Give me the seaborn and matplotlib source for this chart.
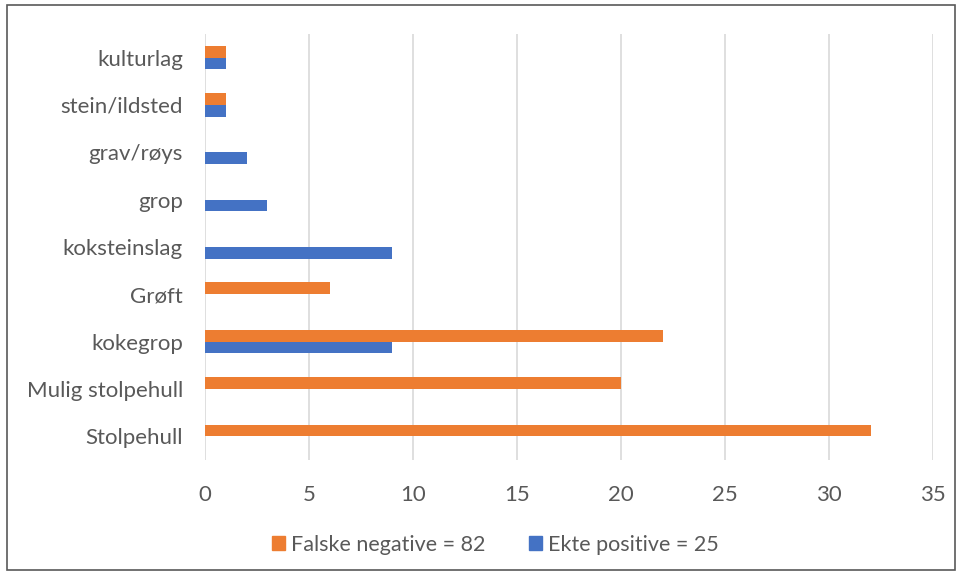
import pandas as pd
import matplotlib.pyplot as plt
import matplotlib.patches as mpatches
import seaborn as sns

# data (top to bottom)
categories = ['kulturlag', 'stein/ildsted', 'grav/røys', 'grop', 'koksteinslag',
              'Grøft', 'kokegrop', 'Mulig stolpehull', 'Stolpehull']
falske_negative = [1, 1, 0, 0, 0, 6, 22, 20, 32]
ekte_positive = [1, 1, 2, 3, 9, 0, 9, 0, 0]
series_names = ['Falske negative = 82', 'Ekte positive = 25']
colors = ['#ED7D31', '#4472C4']

df = pd.DataFrame({'kategori': categories * 2,
                   'antall': falske_negative + ekte_positive,
                   'serie': [series_names[0]] * len(categories) + [series_names[1]] * len(categories)})

sns.set_style('white')
plt.rcParams['font.family'] = ['Lato', 'DejaVu Sans']

fig = plt.figure(figsize=(9.62, 5.74), dpi=100)
ax = fig.add_axes([0.2131, 0.1986, 0.7568, 0.7422])

sns.barplot(data=df, y='kategori', x='antall', hue='serie', order=categories,
            hue_order=series_names, palette=colors, orient='h', width=0.5,
            linewidth=0, saturation=1, ax=ax)

ax.set_xlim(0, 35)
ax.set_xticks(range(0, 36, 5))
ax.xaxis.grid(True, color='#D9D9D9', linewidth=1.2)
ax.set_axisbelow(True)
for s in ax.spines.values():
    s.set_visible(False)
ax.set_xlabel('')
ax.set_ylabel('')
ax.tick_params(axis='y', length=0, pad=16, labelsize=16, labelcolor='#595959')
ax.tick_params(axis='x', length=0, pad=18, labelsize=16, labelcolor='#595959')

handles = [mpatches.Patch(color=c) for c in colors]
ax.get_legend().remove()
fig.legend(handles, series_names, loc='center', bbox_to_anchor=(0.515, 0.051), ncol=2,
           frameon=False, fontsize=15.5, labelcolor='#595959', handlelength=0.6,
           handleheight=0.6, handletextpad=0.3, columnspacing=2.0)

# outer frame like the chart area border
fig.patches.append(mpatches.Rectangle((0.007, 0.007), 0.986, 0.984, transform=fig.transFigure,
                                      fill=False, edgecolor='#595959', linewidth=1.2))

fig.savefig('out.png', dpi=100, facecolor='white')
